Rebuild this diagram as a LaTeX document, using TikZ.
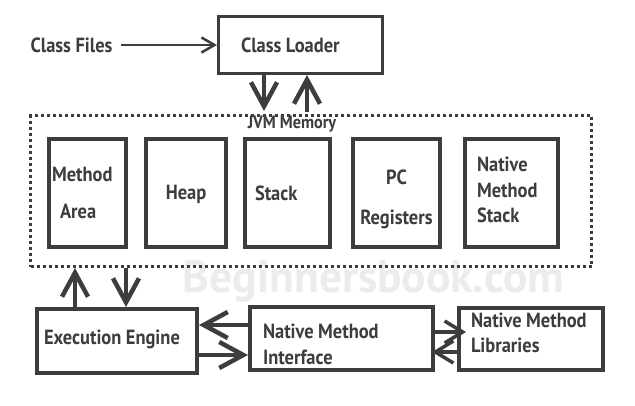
\documentclass[tikz,border=0pt]{standalone}
\usepackage{fontspec}
\newfontfamily\labfont{PT Sans}[FakeStretch=0.9]
\newfontfamily\wmfont{PT Sans}
\usetikzlibrary{arrows.meta}
\definecolor{ink}{HTML}{3D3D3D}
\definecolor{wm}{HTML}{ECECEC}
\newcommand\wsp{\hspace{4.5pt}}
\begin{document}
\begin{tikzpicture}[x=1pt,y=-1pt,
  lab/.style={text=ink, font=\labfont\bfseries\fontsize{20.5}{24}\selectfont},
  box/.style={lab, draw=ink, line width=4pt, inner ysep=0pt, minimum height=108pt},
  lbox/.style={box, align=left},
  cbox/.style={box, align=center},
  bigarr/.style={draw=ink, line width=4.5pt, -{Straight Barb[length=24pt, width=26pt]}},
  midarr/.style={draw=ink, line width=3.5pt, -{Straight Barb[length=18pt, width=22pt]}},
  thinarr/.style={draw=ink, line width=2.5pt, -{Straight Barb[length=13pt, width=15pt]}},
  dotbox/.style={draw=ink, line width=3pt, dash pattern=on 3pt off 3pt}
]
\useasboundingbox[fill=white] (0,0) rectangle (635,405);

% watermark
\node[anchor=base, text=wm, font=\wmfont\bfseries\fontsize{45.5}{50}\selectfont, inner sep=0pt] (wmark) at (373.5,292) {Beginnersbook.com};

% top
\node[lab, inner sep=0pt] (files) at (71.5,45) {Class\wsp Files};
\node[lbox, line width=3pt, minimum height=57pt, text width=119pt, inner xsep=22.5pt] (loader) at (300.5,45) {\mbox{Class\wsp Loader}};

% JVM memory
\node[dotbox, minimum width=561pt, minimum height=151pt, inner sep=0pt] (mem) at (311,191) {};
\node[text=ink, font=\labfont\bfseries\fontsize{18}{20}\selectfont, inner sep=0pt] (jvm) at (292,124) {JVM\hspace{4pt}Memory};

\node[lbox, text width=71pt, inner xsep=3pt] (ma) at (87.5,193) {Method\\[13pt]\hspace*{8pt}Area};
\node[cbox, minimum width=80pt, inner xsep=0pt] (heap) at (186,193) {\rule{0pt}{18pt}Heap};
\node[lbox, text width=65pt, inner xsep=10pt] (stack) at (287.5,193) {Stack};
\node[cbox, minimum width=87pt, inner xsep=0pt] (pc) at (396.5,193) {\rule{0pt}{28pt}PC\\[16pt]Registers};
\node[lbox, text width=69pt, inner xsep=12pt] (nms) at (511.5,193) {Native\\[1.5pt]Method\\[1.5pt]Stack\rule[-6pt]{0pt}{0pt}};

% bottom
\node[lbox, minimum height=64pt, text width=146pt, inner xsep=7pt] (ee) at (117,341) {\mbox{Execution\wsp Engine}\rule[-7pt]{0pt}{0pt}};
\node[lbox, minimum height=63pt, text width=157pt, inner xsep=13pt] (nmi) at (341.5,338.5) {\rule{0pt}{27pt}\mbox{Native\wsp Method}\\[2pt]Interface};
\node[lbox, minimum height=62pt, text width=120pt, inner xsep=12pt] (nml) at (531,339) {\mbox{Native\wsp Method}\\[1pt]Libraries\rule[-12pt]{0pt}{0pt}};

% helper coordinates
\coordinate (xa) at (264,0);
\coordinate (xb) at (307,0);
\coordinate (xc) at (75,0);
\coordinate (xd) at (126,0);
\coordinate (ya) at (0,325);
\coordinate (yb) at (0,355);
\coordinate (yc) at (0,332);
\coordinate (yd) at (0,352);

% connectors
\draw[thinarr, shorten <=8pt] (files.east) -- (loader.west);
\draw[bigarr, shorten >=3pt] (loader.south -| xa) -- (mem.north -| xa);
\draw[bigarr, shorten <=2pt] (mem.north -| xb) -- (loader.south -| xb);
\draw[bigarr] (ee.north -| xc) -- (mem.south -| xc);
\draw[bigarr] (mem.south -| xd) -- (ee.north -| xd);
\draw[bigarr] (nmi.west |- ya) -- (ee.east |- ya);
\draw[bigarr] (ee.east |- yb) -- (nmi.west |- yb);
\draw[midarr, shorten >=-9pt] (nmi.east |- yc) -- (nml.west |- yc);
\draw[midarr, shorten >=-3pt] (nml.west |- yd) -- (nmi.east |- yd);
\end{tikzpicture}
\end{document}
